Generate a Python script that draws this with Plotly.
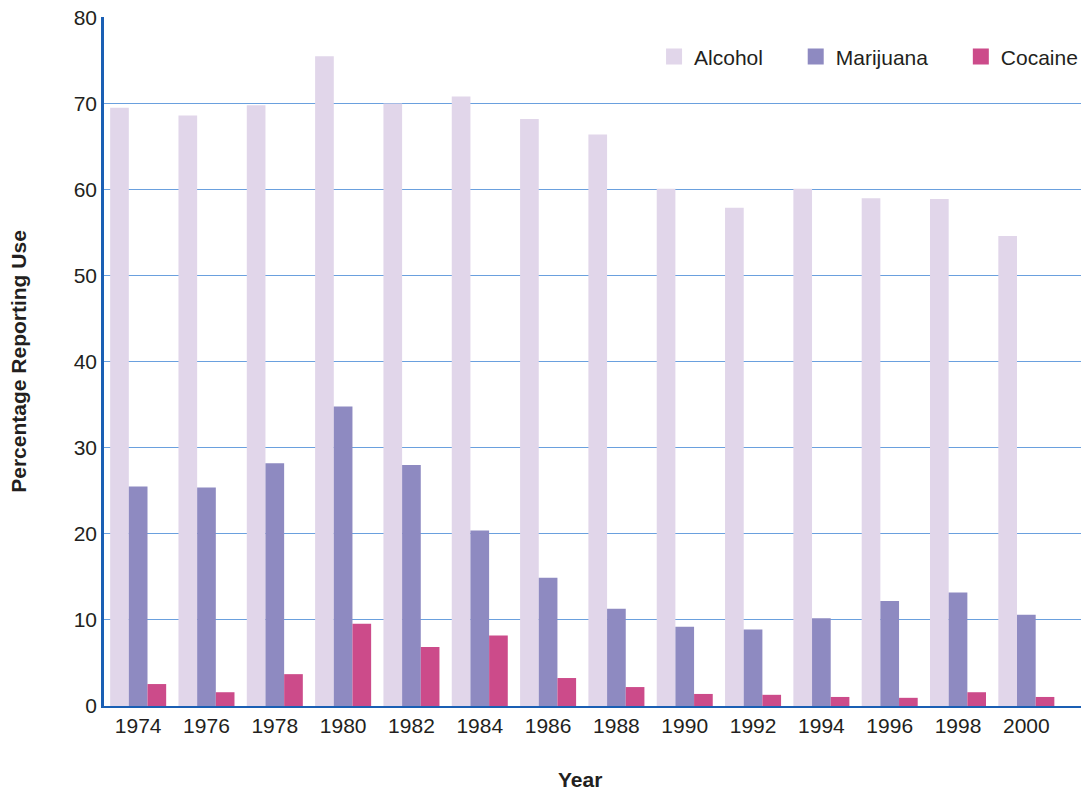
import plotly.graph_objects as go

years = ["1974", "1976", "1978", "1980", "1982", "1984", "1986", "1988", "1990", "1992", "1994", "1996", "1998", "2000"]
alcohol = [69.5, 68.6, 69.8, 75.5, 70.0, 70.8, 68.2, 66.4, 60.1, 57.9, 60.1, 59.0, 58.9, 54.6]
marijuana = [25.5, 25.4, 28.2, 34.8, 28.0, 20.4, 14.9, 11.3, 9.2, 8.9, 10.2, 12.2, 13.2, 10.6]
cocaine = [2.55, 1.6, 3.7, 9.55, 6.85, 8.2, 3.25, 2.2, 1.4, 1.3, 1.05, 0.95, 1.6, 1.05]

series_names = ["Alcohol", "Marijuana", "Cocaine"]
series_values = [alcohol, marijuana, cocaine]
series_colors = ["#e1d6ea", "#8e8ac1", "#cc4b8a"]
legend_ids = ["legend", "legend2", "legend3"]
legend_x = [0.563, 0.708, 0.877]

FONT = "Liberation Sans, Arial, Helvetica, sans-serif"
TXT = "#231f20"

W, H = 1084, 793
ML, MT, MR, MB = 104, 17, 0, 87

fig = go.Figure()
for name, vals, col, lg in zip(series_names, series_values, series_colors, legend_ids):
    fig.add_trace(go.Bar(name=name, x=years, y=vals, marker_color=col, marker_line_width=0,
                         showlegend=False, legendgroup=name))
    fig.add_trace(go.Scatter(name=name, x=[None], y=[None], mode="markers",
                             marker=dict(symbol="square", size=19, color=col),
                             showlegend=True, legendgroup=name, legend=lg))

legend_common = dict(orientation="h", y=0.972, xanchor="left", yanchor="top",
                     font=dict(size=21, color=TXT, family=FONT), itemwidth=30,
                     bgcolor="rgba(0,0,0,0)", itemsizing="trace")
layout_legends = {lg: dict(legend_common, x=lx) for lg, lx in zip(legend_ids, legend_x)}

plot_w = W - ML - MR
plot_h = H - MT - MB

fig.update_layout(
    width=W, height=H,
    margin=dict(l=ML, r=MR, t=MT, b=MB),
    paper_bgcolor="white", plot_bgcolor="white",
    barmode="group", bargap=0.18, bargroupgap=0,
    font=dict(family=FONT, size=21, color=TXT),
    showlegend=True,
    xaxis=dict(
        type="category", range=[-0.5, 13.8], automargin=False,
        showline=True, linecolor="#1a5fb4", linewidth=2,
        ticks="", tickfont=dict(size=21, color=TXT),
        showgrid=False, zeroline=False,
    ),
    yaxis=dict(
        range=[0, 80.05], tickmode="array", tickvals=[0, 10, 20, 30, 40, 50, 60, 70, 80],
        automargin=False, ticklabeloverflow="allow",
        showline=True, linecolor="#1a5fb4", linewidth=2.5,
        showgrid=True, gridcolor="#6aa0de", gridwidth=1.2,
        zeroline=False, ticks="", ticklen=0,
        tickfont=dict(size=21, color=TXT),
    ),
    annotations=[
        dict(text="<b>Year</b>", x=(581 - ML) / plot_w, y=(MT + plot_h - 779) / plot_h,
             xref="paper", yref="paper", showarrow=False,
             font=dict(size=21, color=TXT, family=FONT), xanchor="center", yanchor="middle"),
        dict(text="<b>Percentage Reporting Use</b>", x=(18 - ML) / plot_w, y=0.5,
             xref="paper", yref="paper", showarrow=False, textangle=-90,
             font=dict(size=21, color=TXT, family=FONT), xanchor="center", yanchor="middle"),
    ],
    **layout_legends,
)

# remove the default 8px page margin so the figure sits at the window's top-left
fig.write_html("out.html", config={"displayModeBar": False},
               post_script="document.body.style.margin='0';")
